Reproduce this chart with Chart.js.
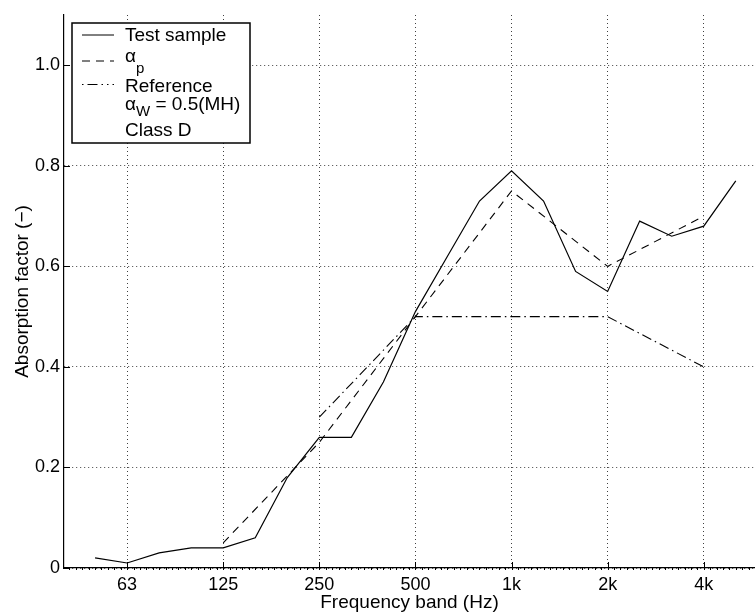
<!DOCTYPE html>
<html>
<head>
<meta charset="utf-8">
<script src="https://cdn.jsdelivr.net/npm/chart.js@4/dist/chart.umd.min.js"></script>
<style>
  html, body { margin: 0; padding: 0; background: #fff; }
  #wrap { width: 755px; height: 614px; position: relative; }
</style>
</head>
<body>
<div id="wrap"><canvas id="absChart"></canvas></div>
<script>
// one-third octave bands, index 0 = 50 Hz
var bandLabels = ['50', '63', '80', '100', '125', '160', '200', '250', '315', '400', '500',
                  '630', '800', '1k', '1.25k', '1.6k', '2k', '2.5k', '3.15k', '4k', '5k'];
var labelledBands = [1, 4, 7, 10, 13, 16, 19];
var yTickValues = [0, 0.2, 0.4, 0.6, 0.8, 1.0];

var testSample = [0.02, 0.01, 0.03, 0.04, 0.04, 0.06, 0.18, 0.26, 0.26, 0.37, 0.51,
                  0.62, 0.73, 0.79, 0.73, 0.59, 0.55, 0.69, 0.66, 0.68, 0.77];

var octaveBands = [4, 7, 10, 13, 16, 19];
var alphaP = [0.05, 0.25, 0.5, 0.75, 0.6, 0.7];

var refBands = [7, 10, 13, 16, 19];
var referenceCurve = [0.3, 0.5, 0.5, 0.5, 0.4];

var FONT = "'Liberation Sans', Arial, Helvetica, sans-serif";

function toPoints(xs, ys)
{
    return ys.map(function (y, i) { return { x: xs[i], y: y }; });
}

// small inward major ticks + minor ticks under the x axis
var tickMarks = {
    id: 'tickMarks',
    afterDraw: function (chart) {
        var ctx = chart.ctx;
        var xs = chart.scales.x, ys = chart.scales.y;
        var area = chart.chartArea;
        ctx.save();
        ctx.strokeStyle = '#000';
        ctx.lineWidth = 1;
        ctx.beginPath();
        labelledBands.forEach(function (b) {
            var px = Math.round(xs.getPixelForValue(b)) + 0.5;
            ctx.moveTo(px, area.bottom);
            ctx.lineTo(px, area.bottom - 6);
        });
        yTickValues.forEach(function (v) {
            var py = Math.round(ys.getPixelForValue(v)) + 0.5;
            ctx.moveTo(area.left, py);
            ctx.lineTo(area.left + 6, py);
        });
        for (var m = Math.ceil(xs.min * 5) / 5; m <= xs.max; m += 0.2) {
            var mx = Math.round(xs.getPixelForValue(m)) + 0.5;
            ctx.moveTo(mx, area.bottom);
            ctx.lineTo(mx, area.bottom + 2);
        }
        ctx.stroke();
        ctx.restore();
    }
};

// legend box with subscripted alpha labels
var boxLegend = {
    id: 'boxLegend',
    afterDraw: function (chart) {
        var ctx = chart.ctx;
        var x0 = 72, y0 = 23, w = 178, h = 120;
        ctx.save();
        ctx.fillStyle = '#fff';
        ctx.fillRect(x0, y0, w, h);
        ctx.strokeStyle = '#000';
        ctx.lineWidth = 1.5;
        ctx.strokeRect(x0, y0, w, h);

        ctx.lineWidth = 1;
        var samples = [
            { y: 35, dash: [] },
            { y: 61, dash: [8, 6] },
            { y: 84.5, dash: [1.5, 4, 10, 4, 1.5, 4] }
        ];
        samples.forEach(function (s) {
            ctx.setLineDash(s.dash);
            ctx.beginPath();
            ctx.moveTo(82, s.y);
            ctx.lineTo(114, s.y);
            ctx.stroke();
        });
        ctx.setLineDash([]);

        ctx.fillStyle = '#000';
        ctx.textBaseline = 'alphabetic';
        ctx.textAlign = 'left';
        ctx.font = '19px ' + FONT;
        ctx.fillText('Test sample', 125, 41);
        ctx.fillText('\u03b1', 125, 62);
        ctx.fillText('Reference', 125, 92);
        ctx.fillText('\u03b1', 125, 110);
        var aw = ctx.measureText('\u03b1').width;
        ctx.font = '15px ' + FONT;
        ctx.fillText('p', 125 + aw, 73);
        ctx.fillText('W', 125 + aw, 116);
        var ww = ctx.measureText('W').width;
        ctx.font = '19px ' + FONT;
        ctx.fillText(' = 0.5(MH)', 125 + aw + ww, 110);
        ctx.fillText('Class D', 125, 136);
        ctx.restore();
    }
};

var ctx = document.getElementById('absChart').getContext('2d');

var myChart = new Chart(ctx, {
    type: 'line',
    data: {
        datasets: [
            {
                label: 'Test sample',
                data: toPoints(bandLabels.map(function (l, i) { return i; }), testSample),
                borderColor: '#000',
                borderWidth: 1.2,
                pointRadius: 0,
                tension: 0
            },
            {
                label: 'alpha p',
                data: toPoints(octaveBands, alphaP),
                borderColor: '#000',
                borderWidth: 1.1,
                borderDash: [8, 6],
                pointRadius: 0,
                tension: 0
            },
            {
                label: 'Reference',
                data: toPoints(refBands, referenceCurve),
                borderColor: '#000',
                borderWidth: 1.1,
                borderDash: [10, 4, 1.5, 4],
                pointRadius: 0,
                tension: 0
            }
        ]
    },
    options: {
        responsive: true,
        maintainAspectRatio: false,
        animation: false,
        layout: { padding: { top: 15, right: 0, left: 0, bottom: 0 } },
        plugins: {
            legend: { display: false },
            tooltip: { enabled: false }
        },
        scales: {
            x: {
                type: 'linear',
                min: -0.97,
                max: 20.6,
                afterBuildTicks: function (scale) {
                    scale.ticks = labelledBands.map(function (b) { return { value: b }; });
                },
                afterFit: function (scale) { scale.height = 46; },
                ticks: {
                    color: '#000',
                    font: { family: FONT, size: 18 },
                    padding: 6,
                    maxRotation: 0,
                    autoSkip: false,
                    callback: function (v) { return bandLabels[v]; }
                },
                grid: {
                    color: 'rgba(0,0,0,0.75)',
                    lineWidth: 1,
                    drawTicks: false
                },
                border: { display: true, color: '#000', width: 1.2, dash: [1, 3] },
                title: {
                    display: true,
                    text: 'Frequency band (Hz)',
                    color: '#000',
                    font: { family: FONT, size: 19 },
                    padding: { top: 0, bottom: 0 }
                }
            },
            y: {
                min: 0,
                max: 1.1,
                afterBuildTicks: function (scale) {
                    scale.ticks = yTickValues.map(function (v) { return { value: v }; });
                },
                afterFit: function (scale) { scale.width = 64; },
                ticks: {
                    color: '#000',
                    font: { family: FONT, size: 18 },
                    padding: 4,
                    callback: function (v) { return v === 0 ? '0' : v.toFixed(1); }
                },
                grid: {
                    color: 'rgba(0,0,0,0.75)',
                    lineWidth: 1,
                    drawTicks: false
                },
                border: { display: true, color: '#000', width: 1.2, dash: [1, 3] },
                title: {
                    display: true,
                    text: 'Absorption factor (\u2212)',
                    color: '#000',
                    font: { family: FONT, size: 19 },
                    padding: { top: 11, bottom: 0 }
                }
            }
        }
    },
    plugins: [tickMarks, boxLegend]
});
</script>
</body>
</html>
